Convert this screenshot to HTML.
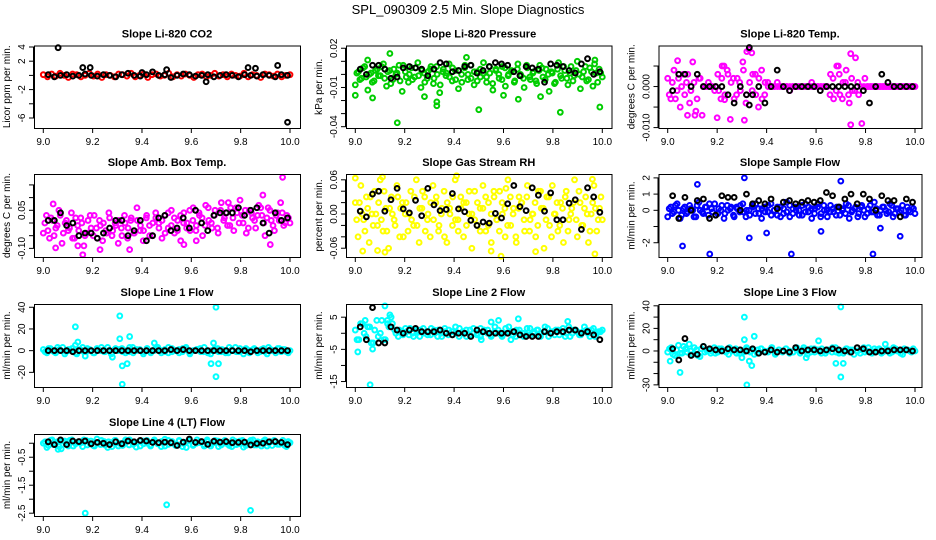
<!DOCTYPE html>
<html><head><meta charset="utf-8">
<style>
html,body{margin:0;padding:0;background:#fff;}
svg{display:block;font-family:"Liberation Sans",sans-serif;}
</style></head>
<body>
<svg id="chart" width="936" height="540" viewBox="0 0 936 540" xmlns="http://www.w3.org/2000/svg">
<text x="468" y="14" text-anchor="middle" font-size="13">SPL_090309  2.5 Min. Slope Diagnostics</text>
</svg>
<script>
// ---- data ----
const p1Col=[0.1,-0.2,0.2,-0.1,0.3,0,-0.3,0.2,0.1,-0.2,0,0.3,-0.1,0.2,-0.3,0.1,0,-0.2,0.2,0.1,-0.1,0.3,-0.2,0,0.2,-0.3,0.1,0.2,-0.1,0,0.3,-0.2,0.1,-0.1,0.2,0,-0.3,0.1,0.2,-0.2,0,0.3,-0.1,0.1,-0.2,0.2,0,-0.1,0.3,-0.2,0.1,0,-0.3,0.2,0.1,-0.1,0.2,-0.2,0,0.1];
const p1ColB=[];
const p1Blk=[0.1,-0.2,0,0.1,-0.1,0,0.2,0,-0.1,0.1,0,-0.2,0.1,0.3,0,-0.1,0.1,0.5,0,0.1,-0.3,0,0.2,0.1,-0.1,0,0.1,-0.2,0,0.1,0,-0.2,0.1,0,-0.1,0.1,0,-0.2,0.1,0];
const p1OutX=[], p1OutY=[];
const p1BOutX=[9.06,9.16,9.19,9.5,9.66,9.83,9.86,9.95,9.99,9.40];
const p1BOutY=[3.9,1.1,1.1,0.8,-0.9,1.1,1.0,1.4,-6.6,0.4];

const p2Col=[-0.008,0.002,-0.003,0.006,-0.012,0.001,-0.005,0.004,-0.001,0.008,-0.009,0.003,-0.004,0.000,0.007,-0.013,0.002,-0.006,0.005,-0.002,0.009,-0.010,0.001,-0.003,0.004,-0.007,0.006,-0.014,0.002,-0.001,0.008,-0.005,0.003,-0.011,0.000,0.005,-0.004,0.007,-0.008,0.002,-0.002,0.009,-0.006,0.001,-0.012,0.004,-0.003,0.006,-0.009,0.000,0.003,-0.005,0.008,-0.001,-0.010,0.005,-0.004,0.002,-0.007,0.007,-0.002,0.004,-0.013,0.001,-0.006,0.009,-0.003,0.003,-0.008,0.006,-0.001,0.010,-0.011,0.002,-0.005,0.005,-0.009,0.001,0.004,-0.002];
const p2ColB=[0.001,-0.004,0.005,-0.002,0.000,-0.006,0.003,-0.001,0.006,-0.003,0.002,-0.007,0.004,0.001,-0.005,0.007,-0.002,0.000,-0.004,0.005,-0.001,0.003,-0.006,0.002,0.006,-0.003,0.000,-0.008,0.004,0.001,-0.002,0.005,-0.004,0.003,-0.006,0.007,0.000,-0.003,0.002,-0.005,0.004,0.001,-0.002,0.006,-0.007,0.003,0.000,-0.004,0.005,-0.001,0.002,-0.006,0.004,0.000,-0.003,0.007,-0.002,0.001,-0.005,0.003,0.005,-0.004,0.000,0.002,-0.007,0.004,-0.001,0.006,-0.003,0.001,-0.005,0.003,0.000,-0.002,0.006,-0.004,0.002,0.008,-0.006,0.001];
const p2Blk=[0.004,0.000,0.007,0.007,0.004,-0.003,-0.002,0.005,0.006,0.005,0.004,-0.001,0.004,0.009,0.008,0.002,0.003,0.006,0.007,0.001,0.003,0.006,0.009,0.008,0.007,0.002,-0.001,0.006,0.005,0.004,-0.006,0.008,0.007,0.006,0.003,0.001,0.008,0.012,0.000,0.002];
const p2OutX=[9.0,9.07,9.17,9.33,9.33,9.5,9.83,9.99,9.14,9.97,9.28,9.66,9.05,9.45,9.6,9.75];
const p2OutY=[-0.016,-0.018,-0.037,-0.024,-0.021,-0.027,-0.029,-0.025,0.016,0.011,-0.017,-0.019,0.011,0.013,-0.016,-0.017];
const p2BOutX=[], p2BOutY=[];

const p3Col=[0.002,-0.003,0.004,-0.001,-0.005,0.003,0.001,-0.004,0.006,-0.006,0.002,-0.007,0.000,0.001,0.000,-0.001,0.003,-0.003,0.005,0.004,-0.008,0.002,-0.002,0.001,0.006,-0.004,0.009,-0.001,0.003,-0.005,0.004,-0.002,0.001,0,0,0.001,0,0,0,-0.001,0,0,0,0,0,0,0.001,0,0,0,0,0.000,0.003,-0.003,0.005,-0.002,0.001,0.004,-0.004,-0.001,0.007,-0.002,-0.009,0.002,0,0,0,0,0,0,0,0,0,0,0,0,0,0,0,0];
const p3ColB=[-0.002,0.001,-0.003,0.002,0.000,-0.002,0.003,-0.001,0.001,-0.003,0.002,0.000,0,0,0,0,-0.001,0.002,-0.002,0.003,0.001,-0.003,0.002,-0.001,0.004,-0.002,0.001,0.003,-0.002,0.002,-0.003,0.001,0,0,0,0,0,0,0,0,0,0,0,0,0,0,0,0,0,0,0,0,-0.002,0.002,-0.001,0.003,-0.003,0.001,-0.002,0.002,-0.001,0.001,0,0,0,0,0,0,0,0,0,0,0,0,0,0,0,0,0,0];
const p3Blk=[-0.001,0.003,0.003,0,0.003,0,0,0,0,-0.002,-0.004,0,-0.002,-0.002,0,-0.004,0,0.004,0,-0.001,0,0,0,0,-0.001,0,0,0,0,0,0,-0.001,-0.004,0,0.003,0.001,0,0,0,0];
const p3OutX=[9.04,9.08,9.32,9.34,9.31,9.2,9.74,9.74,9.69,9.11,9.23,9.22];
const p3OutY=[0.0063,-0.007,0.0085,0.0082,-0.0082,-0.0076,0.0080,-0.0093,0.005,-0.007,-0.0032,0.005];
const p3BOutX=[9.33,9.33], p3BOutY=[0.0095,-0.0045];

const p4Col=[-0.04,0.03,-0.06,0.01,-0.02,0.05,-0.08,0.00,-0.03,0.04,-0.06,-0.01,0.02,-0.09,-0.04,0.03,-0.05,-0.02,0.01,-0.07,-0.03,0.04,-0.05,0.00,-0.08,-0.02,0.03,-0.06,0.01,-0.04,0.06,-0.03,-0.07,0.02,-0.01,-0.05,0.04,0.00,-0.06,0.03,-0.02,0.05,-0.04,0.01,-0.07,0.04,0.00,-0.03,0.06,-0.01,0.03,-0.05,0.07,0.01,-0.02,0.05,-0.04,0.08,0.02,-0.01,0.06,-0.03,0.04,0.09,0.00,-0.04,0.05,0.02,-0.02,0.07,0.03,-0.05,0.06,0.01,-0.03,0.04,0.08,-0.01,0.03,0.00];
const p4ColB=[0.00,-0.03,0.02,-0.05,-0.01,0.03,-0.04,0.01,-0.02,-0.06,0.02,-0.03,0.00,-0.05,0.01,-0.02,0.03,-0.06,-0.01,0.00,-0.04,0.02,-0.03,-0.01,0.01,-0.05,0.00,-0.02,0.02,-0.04,0.01,-0.01,-0.03,0.03,-0.05,0.00,0.02,-0.02,0.01,-0.04,0.04,-0.01,0.02,-0.03,0.03,0.00,-0.02,0.05,0.01,-0.03,0.04,0.02,-0.01,0.06,0.00,0.03,-0.02,0.05,0.01,0.04,-0.01,0.02,0.06,0.00,0.03,0.05,-0.02,0.04,0.01,0.03,0.06,0.00,0.02,0.05,-0.01,0.03,0.01,0.04,0.00,0.02];
const p4Blk=[0.01,0.01,0.04,-0.01,0.00,-0.05,-0.04,-0.04,-0.06,-0.04,-0.02,0.01,0.01,-0.05,-0.03,0.01,-0.07,-0.05,0.02,0.03,-0.03,-0.02,0.02,-0.02,0.05,0.00,-0.03,0.03,0.04,0.04,0.04,0.06,0.03,0.05,0.06,0.00,-0.04,0.04,0.01,0.02];
const p4OutX=[9.16,9.04,9.05,9.97,9.89,9.14,9.23,9.35,9.57,9.92,9.62,9.75];
const p4OutY=[-0.125,0.075,-0.098,0.180,0.110,-0.090,-0.105,-0.105,-0.085,-0.085,-0.070,0.080];
const p4BOutX=[], p4BOutY=[];

const p5Col=[0.02,-0.04,0.05,-0.01,0.03,-0.05,0.00,0.04,-0.02,0.06,-0.03,0.01,-0.06,0.03,-0.01,0.05,-0.04,0.02,0.00,-0.03,0.04,-0.02,0.06,-0.05,0.01,0.03,-0.01,-0.04,0.05,0.02,-0.03,0.00,0.04,-0.05,0.01,-0.02,0.06,-0.01,0.03,-0.04,0.02,0.00,-0.06,0.04,-0.02,0.01,0.05,-0.03,0.02,-0.05,0.03,-0.01,0.04,0.00,-0.04,0.06,-0.02,0.01,-0.05,0.03,0.02,-0.03,0.05,-0.01,0.00,-0.04,0.04,0.01,-0.06,0.03,-0.02,0.05,0.00,-0.03,0.02,-0.05,0.04,-0.01,0.01,0.06,-0.04,0.02,-0.02,0.03,-0.05,0.00,0.05,-0.03,0.01,-0.01];
const p5ColB=[-0.01,0.02,0.00,-0.03,0.01,0.03,-0.02,0.00,0.02,-0.01,0.04,-0.03,0.01,0.00,-0.02,0.03,0.01,-0.04,0.02,0.00,-0.01,0.03,-0.02,0.01,0.04,-0.03,0.00,0.02,-0.01,0.03,-0.02,0.01,-0.04,0.02,0.00,0.03,-0.01,-0.03,0.01,0.02,-0.02,0.04,0.00,-0.01,0.02,-0.03,0.01,0.03,-0.02,0.00,0.04,-0.01,-0.03,0.02,0.01,-0.02,0.03,0.00,-0.04,0.01,0.02,-0.01,0.03,-0.03,0.00,0.02,-0.02,0.04,0.01,-0.01,0.03,-0.04,0.00,0.02,-0.02,0.01,0.03,-0.03,0.00,0.02,-0.01,0.04,-0.02,0.01,0.00,-0.03,0.02,0.01,-0.01,0.03];
const p5Blk=[0.005,-0.005,0.035,0.04,0.005,0.025,0.045,0.009,0.002,0.024,-0.003,0.045,0.016,0.006,0.008,0.036,0.009,0.004,-0.011,-0.020,-0.014,-0.016,0.001,-0.007,0.018,0.050,0.013,0.006,0.046,0.033,0.005,0.037,-0.010,-0.010,0.019,0.025,-0.027,0.046,0.030,0.003];
const p5OutX=[9.0,9.03,9.11,9.12,9.55,9.59,9.61,9.73,9.97,9.96,9.41,9.09];
const p5OutY=[0.063,-0.065,0.065,-0.067,-0.065,-0.074,0.045,-0.066,-0.070,0.061,0.067,-0.064];
const p5BOutX=[], p5BOutY=[];

const p6Col=[-0.4,0.2,-0.1,0.4,-0.5,0.1,-0.2,0.3,0.0,-0.4,0.5,-0.1,0.2,-0.3,0.1,0.4,-0.2,0.0,-0.5,0.3,0.1,-0.3,0.2,-0.1,0.4,-0.4,0.0,0.3,-0.2,0.1,-0.5,0.2,-0.1,0.4,0.0,-0.3,0.2,-0.2,0.5,-0.4,0.1,0.0,-0.3,0.3,-0.1,0.2,-0.5,0.1,0.4,-0.2,0.0,-0.4,0.3,-0.1,0.2,-0.3,0.1,0.4,-0.5,0.0,0.2,-0.2,0.3,-0.4,0.1,-0.1,0.5,-0.3,0.0,0.2,-0.2,0.4,-0.4,0.1,-0.1,0.3,-0.3,0.0,0.2,-0.2];
const p6ColB=[0.1,-0.2,0.3,0.0,-0.3,0.2,-0.1,0.1,-0.4,0.3,0.0,-0.2,0.2,0.4,-0.1,-0.3,0.1,0.3,-0.2,0.0,0.2,-0.4,0.1,0.3,-0.1,0.0,-0.3,0.2,0.4,-0.2,0.1,-0.1,0.3,-0.3,0.0,0.2,-0.4,0.1,-0.1,0.3,-0.2,0.2,0.0,-0.3,0.4,-0.1,0.1,-0.2,0.2,-0.4,0.3,0.0,-0.1,0.1,-0.3,0.2,0.0,-0.2,0.3,-0.1,0.1,-0.4,0.2,0.0,-0.2,0.3,-0.1,0.1,-0.3,0.2,0.0,-0.1,0.3,-0.2,0.1,0.0,-0.3,0.2,-0.1,0.1];
const p6Blk=[0.9,-0.5,0.8,0.0,0.6,0.7,-0.5,-0.3,0.9,0.8,0.8,0.0,1.0,0.4,0.6,0.4,0.7,0.1,0.5,0.6,0.4,0.5,0.6,0.5,0.6,1.1,0.9,0.2,0.7,1.0,0.4,1.0,0.7,0.0,0.9,0.6,0.6,-0.4,0.7,0.5];
const p6OutX=[9.06,9.17,9.5,9.83,9.31,9.7,9.12,9.33,9.4,9.94,9.62,9.86];
const p6OutY=[-2.2,-2.7,-2.7,-2.7,2.0,1.8,1.6,-1.7,-1.4,-1.6,-1.3,-1.1];
const p6BOutX=[], p6BOutY=[];

const p7Col=[1,-2,2,-1,3,0,-3,1,2,-2,0,3,-1,1,-2,2,0,-1,3,-3,1,0,2,-2,-1,3,0,1,-3,2,-1,0,2,-2,1,3,-1,0,-2,2,1,-3,0,1,-1,3,-2,0,2,-1,1,-2,3,0,-1,2,-3,1,0,2,-2,1,-1,3,0,-2,2,1,-1,0];
const p7ColB=[-1,2,0,-2,1,3,-1,0,2,-3,1,-1,2,0,-2,1,3,-1,0,-2,2,1,-1,0,3,-2,1,0,-1,2,-2,1,3,0,-1,-2,2,0,1,-1,3,-2,0,1,2,-1,0,-3,1,2,-1,0,-2,1,3,-1,0,2,-2,1,0,-1,2,-3,1,0,2,-1,1,-2];
const p7Blk=[0,0,0,0,-1,0,0,0,0,0,0,0,0,0,0,0,0,0,0,0,1,0,1,0,0,0,0,0,0,0,0,0,0,-1,0,0,0,0,0,0];
const p7OutX=[9.13,9.14,9.31,9.31,9.32,9.32,9.34,9.35,9.45,9.69,9.70,9.70,9.71,9.68,9.17,9.28,9.13];
const p7OutY=[22,8,32,11,-31,-14,-12,13,7,7,40,-24,-12,-12,-5,-6,5];
const p7BOutX=[], p7BOutY=[];

const p8Col=[1,-2,3,-1,2,-3,4,0,-2,3,5,1,-1,0.5,1.5,-0.5,0,1,-1,1.5,0.5,-0.5,1,-1,0,1.5,-0.5,0.5,2,-1,0,1,-0.5,1.5,0,-1,0.5,1,-0.5,2,0,-1,1.5,0.5,-0.5,1,0,-1,1.5,-0.5,0.5,1,0,2,-1,0.5,1,-0.5,1.5,0,-1,1,0.5,-0.5,2,0,1,-1,0.5,1];
const p8ColB=[-2,3,0,2,-3,1,-1,4,-2,2,3,0,1,-0.5,0.5,1.5,-1,0.5,1,0,-0.5,1.5,0,1,-1,0.5,1,-0.5,0,1.5,0.5,-1,1,0,-0.5,1.5,1,0,-1,0.5,1,-0.5,0,2,0.5,-1,1,0,-0.5,1.5,0,1,-1,0.5,1.5,0,-0.5,1,0.5,-1,2,0,1,-0.5,0.5,1,-1,1.5,0,0.5];
const p8Blk=[2,-2,8,-3,-3,2,1,0,1,1.5,0.5,0.5,0.5,1,0,-0.5,0,0,-1,1,0.5,0,0,0,0,0.5,-0.5,-1,-1,-1,0.5,0,0.5,0.5,1,1,0,0.5,-0.5,-2];
const p8OutX=[9.01,9.06,9.07,9.12,9.14,9.04,9.13,9.55,9.58,9.66,9.86,9.51,9.63];
const p8OutY=[-5.8,-16,-4.9,8.5,5.7,4,4,3.5,4,4.5,3.7,-2,-2];
const p8BOutX=[], p8BOutY=[];

const p9Col=[-1,3,-4,5,-2,2,6,-3,1,-5,4,0,-2,3,-1,2,0,-3,1,2,-2,0,3,-1,1,-2,2,0,-1,3,-3,1,0,2,-2,-1,3,0,1,-3,2,-1,0,2,-2,1,3,-1,0,-2,2,1,-3,0,1,-1,3,-2,0,2,-1,1,-2,3,0,-2,2,1,-1,0];
const p9ColB=[2,-3,1,-2,4,-1,0,3,-4,2,-1,1,0,-2,2,1,-1,3,0,-2,1,-1,2,0,-3,1,2,-1,0,3,-2,1,-1,2,0,-1,1,-2,3,0,-1,2,1,-2,0,1,-1,3,-2,0,2,-1,1,0,-2,3,0,-1,2,1,-2,0,1,-1,2,0,-3,1,0,2];
const p9Blk=[2,-8,11,-4,-3,4,2,1,0,2,1,1,0,2,-2,-1,1,-1,0,-1,3,0,1,1,0,1,2,1,0,-1,3,2,-1,-1,0,0,1,1,1,0];
const p9OutX=[9.01,9.05,9.31,9.31,9.32,9.33,9.34,9.35,9.7,9.70,9.71,9.68,9.61,9.3,9.88,9.56];
const p9OutY=[-9,-19,30,10,-30,-9,-13,13,39,-23,-11,-11,9,-6,6,-6];
const p9BOutX=[], p9BOutY=[];

const p10Col=[0.0,-0.15,0.1,-0.05,0.05,-0.2,0.08,-0.1,0.12,-0.02,0.05,-0.12,0.1,0.0,-0.08,0.15,-0.05,0.06,-0.15,0.02,0.1,-0.1,0.0,0.12,-0.06,0.04,-0.14,0.08,-0.02,0.1,-0.1,0.05,0.0,-0.12,0.14,-0.04,0.06,-0.08,0.1,0.0,-0.15,0.08,-0.05,0.12,0.02,-0.1,0.06,-0.02,0.1,-0.12,0.04,0.0,-0.08,0.12,-0.05,0.08,-0.14,0.02,0.1,-0.06,0.05,-0.1,0.12,0.0,-0.08,0.06,-0.04,0.1,-0.12,0.02];
const p10ColB=[0.05,-0.08,0.12,0.0,-0.12,0.08,-0.04,0.1,-0.1,0.04,0.0,0.12,-0.06,0.08,-0.1,0.02,0.1,-0.06,0.05,-0.12,0.1,0.0,-0.08,0.06,0.12,-0.04,0.02,-0.1,0.08,0.0,-0.06,0.12,-0.02,0.06,-0.1,0.1,0.0,-0.05,0.08,-0.12,0.04,0.1,-0.08,0.0,0.06,-0.04,0.12,-0.1,0.02,0.08,-0.06,0.1,0.0,-0.12,0.06,-0.02,0.1,-0.08,0.04,0.12,-0.06,0.0,0.08,-0.1,0.05,0.1,-0.04,0.02,-0.08,0.06];
const p10Blk=[0.05,-0.05,0.12,-0.05,0.08,0.06,0.08,-0.02,0.03,0.0,-0.05,0.05,-0.02,0.08,0.05,0.1,0.08,0.03,0.02,0.04,0.02,-0.08,0.04,0.15,0.03,0.06,-0.04,0.07,0.04,0.06,0.02,0.03,0.04,-0.06,-0.01,0.0,0.05,0.06,0.03,-0.05];
const p10OutX=[9.06,9.17,9.5,9.84];
const p10OutY=[-0.22,-2.5,-2.2,-2.4];
const p10BOutX=[], p10BOutY=[];

const xTickVals=[9.0,9.2,9.4,9.6,9.8,10.0];
const xTickLabels=["9.0","9.2","9.4","9.6","9.8","10.0"];

const titles=["Slope Li-820 CO2","Slope Li-820 Pressure","Slope Li-820 Temp.","Slope Amb. Box Temp.","Slope Gas Stream RH","Slope Sample Flow","Slope Line 1 Flow","Slope Line 2 Flow","Slope Line 3 Flow","Slope Line 4 (LT) Flow"];
const yTitles=["Licor ppm per min.","kPa per min.","degrees C per min.","degrees C per min.","percent per min.","ml/min per min.","ml/min per min.","ml/min per min.","ml/min per min.","ml/min per min."];
const yTicks=[[-6,-4,-2,0,2,4],[0.02,0.01,0,-0.01,-0.02,-0.03,-0.04],[0.005,0,-0.005,-0.01],[0.15,0.1,0.05,0,-0.05,-0.1],[0.06,0.04,0.02,0,-0.02,-0.04,-0.06],[2,1,0,-1,-2],[40,20,0,-20],[5,0,-5,-10,-15],[40,30,20,10,0,-10,-20,-30],[0,-0.5,-1,-1.5,-2,-2.5]];
const yTickLabels=[["-6","","-2","","2","4"],["0.02","","","-0.01","","","-0.04"],["","0.000","","-0.010"],["","","0.05","","","-0.10"],["0.06","","","0.00","","","-0.06"],["2","1","0","","-2"],["40","20","0","-20"],["5","","-5","","-15"],["40","","20","","0","","","-30"],["","-0.5","","-1.5","","-2.5"]];
const yDomains=[[-7.41,4.21],[-0.041,0.0221],[-0.0101,0.0100],[-0.134,0.193],[-0.0754,0.0702],[-2.88,2.24],[-33.5,43.0],[-16.7,9.1],[-31.9,41.6],[-2.60,0.33]];
const colors=["#ff0000","#00cd00","#ff00ff","#ff00ff","#ffff00","#0000ff","#00ffff","#00ffff","#00ffff","#00ffff"];
const colSeries=[p1Col,p2Col,p3Col,p4Col,p5Col,p6Col,p7Col,p8Col,p9Col,p10Col];
const colSeriesB=[p1ColB,p2ColB,p3ColB,p4ColB,p5ColB,p6ColB,p7ColB,p8ColB,p9ColB,p10ColB];
const blkSeries=[p1Blk,p2Blk,p3Blk,p4Blk,p5Blk,p6Blk,p7Blk,p8Blk,p9Blk,p10Blk];
const outXs=[p1OutX,p2OutX,p3OutX,p4OutX,p5OutX,p6OutX,p7OutX,p8OutX,p9OutX,p10OutX];
const outYs=[p1OutY,p2OutY,p3OutY,p4OutY,p5OutY,p6OutY,p7OutY,p8OutY,p9OutY,p10OutY];
const bOutXs=[p1BOutX,p2BOutX,p3BOutX,p4BOutX,p5BOutX,p6BOutX,p7BOutX,p8BOutX,p9BOutX,p10BOutX];
const bOutYs=[p1BOutY,p2BOutY,p3BOutY,p4BOutY,p5BOutY,p6BOutY,p7BOutY,p8BOutY,p9BOutY,p10BOutY];

// ---- layout ----
const cols=[{l:34,r:300,x9:43.3,x10:290},{l:346,r:611.5,x9:355.3,x10:602.3},{l:658.5,r:921.5,x9:667.7,x10:915}];
const rows=[{t:45.5,b:128},{t:174,b:257},{t:304,b:387},{t:434,b:516}];
const NS="http://www.w3.org/2000/svg";
const svg=document.getElementById('chart');
function mk(tag,attrs,parent){const e=document.createElementNS(NS,tag);for(const k in attrs)e.setAttribute(k,attrs[k]);(parent||svg).appendChild(e);return e;}

for(let p=0;p<10;p++){
  const c=cols[p%3], r=rows[Math.floor(p/3)];
  const g=mk('g',{});
  
  
  const xS=v=>c.x9+(v-9)*(c.x10-c.x9);
  const [lo,hi]=yDomains[p];
  const yS=v=>r.b-(v-lo)/(hi-lo)*(r.b-r.t);
  const t=mk('text',{x:(c.l+c.r)/2,y:r.t-8,'text-anchor':'middle','font-size':'11','font-weight':'bold'},g);
  t.textContent=titles[p];
  
  
  const yt=mk('text',{x:0,y:0,'text-anchor':'middle','font-size':'10',transform:`translate(${c.l-24},${(r.t+r.b)/2}) rotate(-90)`},g);
  yt.textContent=yTitles[p];
  
  
  const ya=mk('g',{stroke:'#000','stroke-width':'1'},g);
  
  
  const tv=yTicks[p];
  mk('line',{x1:c.l-0.5,x2:c.l-0.5,y1:yS(tv[0]),y2:yS(tv[tv.length-1])},ya);
  tv.forEach((v,i)=>{
    const y=yS(v);
    mk('line',{x1:c.l-5,x2:c.l,y1:y,y2:y},ya);
    if(yTickLabels[p][i]){
      const lt=mk('text',{x:0,y:0,'text-anchor':'middle','font-size':'10',stroke:'none',transform:`translate(${c.l-9},${y}) rotate(-90)`},ya);
      lt.textContent=yTickLabels[p][i];
      
      
    }
  });
  const xa=mk('g',{stroke:'#000','stroke-width':'1'},g);
  
  
  mk('line',{x1:xS(9),x2:xS(10),y1:r.b+0.5,y2:r.b+0.5},xa);
  xTickVals.forEach((v,i)=>{
    const x=xS(v);
    mk('line',{x1:x,x2:x,y1:r.b,y2:r.b+5},xa);
    const lt=mk('text',{x:x,y:r.b+17,'text-anchor':'middle','font-size':'10',stroke:'none'},xa);
    lt.textContent=xTickLabels[i];
    
    
  });
  const cg=mk('g',{fill:'none',stroke:colors[p],'stroke-width':'2'},g);
  
  
  const cs=colSeries[p];
  cs.forEach((v,i)=>{
    const pt=mk('circle',{cx:xS(9+i/(cs.length-1)),cy:yS(v),r:2.4},cg);
    
    
  });
  const cb=colSeriesB[p];
  cb.forEach((v,i)=>{
    const pt=mk('circle',{cx:xS(9+(i+0.5)/cb.length),cy:yS(v),r:2.4},cg);
    
    
  });
  outXs[p].forEach((xv,i)=>{
    const pt=mk('circle',{cx:xS(xv),cy:yS(outYs[p][i]),r:2.4},cg);
    
    
  });
  const bg=mk('g',{fill:'none',stroke:'#000','stroke-width':'2'},g);
  
  
  const bs=blkSeries[p];
  bs.forEach((v,i)=>{
    const pt=mk('circle',{cx:xS(9.02+0.97*i/(bs.length-1)),cy:yS(v),r:2.4},bg);
    
    
  });
  bOutXs[p].forEach((xv,i)=>{
    const pt=mk('circle',{cx:xS(xv),cy:yS(bOutYs[p][i]),r:2.4},bg);
    
    
  });
  const box=mk('rect',{x:c.l+0.5,y:r.t+0.5,width:c.r-c.l,height:r.b-r.t,fill:'none',stroke:'#000','stroke-width':'1'},g);
  
  
}
</script>
</body></html>
